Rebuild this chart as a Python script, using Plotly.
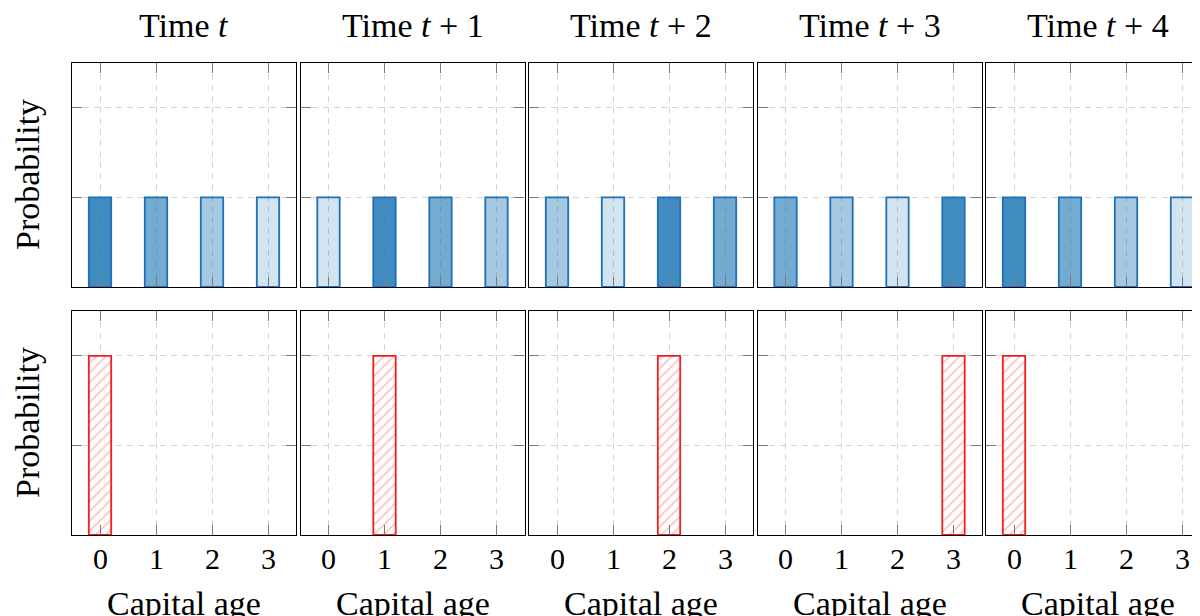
import plotly.graph_objects as go

# ---------------- data ----------------
time_labels = ["Time <i>t</i>", "Time <i>t</i> + 1", "Time <i>t</i> + 2", "Time <i>t</i> + 3", "Time <i>t</i> + 4"]
ages = [0, 1, 2, 3]
age_tick_labels = ["0", "1", "2", "3"]
uniform_prob = [0.25, 0.25, 0.25, 0.25]
deterministic_prob = [
    [1, 0, 0, 0],
    [0, 1, 0, 0],
    [0, 0, 1, 0],
    [0, 0, 0, 1],
    [1, 0, 0, 0],
]
# shade index (0 = darkest) of each age bar at each time (vintage follows through time)
vintage_shade = [
    [0, 1, 2, 3],
    [3, 0, 1, 2],
    [2, 3, 0, 1],
    [1, 2, 3, 0],
    [0, 1, 2, 3],
]
shade_alpha = [0.85, 0.62, 0.40, 0.20]
top_yticks = [0, 0.25, 0.5]
bottom_yticks = [0, 0.5, 1.0]
ylabel = "Probability"
xlabel = "Capital age"

# ---------------- layout geometry ----------------
# the page body has an 8px margin; work in screen pixels and subtract it
OFF = 8
SW, SH = 1200, 616
W, H = SW - OFF, SH - OFF
FONT = "Liberation Serif"
FS = 34
TFS = 30
panel_w = 224
pitch = 228.5
left0 = 72
top_row = (63, 287)
bot_row = (311, 535)


def px(x):
    return (x - OFF) / W


def py(y):
    return (H - (y - OFF)) / H


def ydom(r):
    return [py(r[1]), py(r[0])]


fig = go.Figure()
layout = dict(
    width=W, height=H,
    margin=dict(l=0, r=0, t=0, b=0),
    paper_bgcolor="white", plot_bgcolor="white",
    showlegend=False, barmode="overlay",
    font=dict(family=FONT, size=FS, color="black"),
)
annotations = []

n = len(time_labels)
for i in range(n):
    x0 = left0 + pitch * i
    x1 = x0 + panel_w
    clipped = x1 > SW
    xd = [px(x0), min(px(x1), 1.0)]
    xmax = 3.5 if not clipped else -0.5 + 4.0 * (SW - x0) / panel_w
    for row in range(2):
        k = row * n + i + 1
        xa = "xaxis" if k == 1 else f"xaxis{k}"
        ya = "yaxis" if k == 1 else f"yaxis{k}"
        xr = "x" if k == 1 else f"x{k}"
        yr = "y" if k == 1 else f"y{k}"
        if row == 0:
            colors = [f"rgba(31,119,180,{shade_alpha[s]})" for s in vintage_shade[i]]
            fig.add_trace(go.Bar(
                x=ages, y=uniform_prob, width=0.4,
                marker=dict(color=colors, line=dict(color="rgb(31,112,184)", width=1.8)),
                xaxis=xr, yaxis=yr, hoverinfo="skip",
            ))
            yrange = [0, 0.625]
            yt = top_yticks
            dom = ydom(top_row)
        else:
            vals = [v if v > 0 else None for v in deterministic_prob[i]]
            fig.add_trace(go.Bar(
                x=ages, y=vals, width=0.4,
                marker=dict(
                    color="white",
                    line=dict(color="rgb(240,30,30)", width=1.8),
                    pattern=dict(shape="/", fgcolor="rgb(255,110,110)", bgcolor="white",
                                 size=7, solidity=0.22),
                ),
                xaxis=xr, yaxis=yr, hoverinfo="skip",
            ))
            yrange = [0, 1.25]
            yt = bottom_yticks
            dom = ydom(bot_row)
            for a, lab in zip(ages, age_tick_labels):
                annotations.append(dict(
                    text=lab, x=a, y=py(558), xref=xr, yref="paper",
                    xanchor="center", yanchor="middle", showarrow=False,
                    font=dict(family=FONT, size=TFS, color="black"),
                ))
        layout[xa] = dict(
            domain=xd, range=[-0.5, xmax], anchor=yr,
            tickvals=ages, showticklabels=False,
            ticks="inside", ticklen=10, tickwidth=1.3, tickcolor="#7a7a7a",
            showline=True, linecolor="black", linewidth=1.3, mirror="ticks",
            showgrid=True, gridcolor="#d4d4d4", gridwidth=1, griddash="6px,5px",
            zeroline=False, fixedrange=True,
        )
        layout[ya] = dict(
            domain=dom, range=yrange, anchor=xr,
            tickvals=yt, showticklabels=False,
            ticks="inside", ticklen=10, tickwidth=1.3, tickcolor="#7a7a7a",
            showline=True, linecolor="black", linewidth=1.3,
            mirror=("ticks" if not clipped else False),
            showgrid=True, gridcolor="#d4d4d4", gridwidth=1, griddash="6px,5px",
            zeroline=False, fixedrange=True,
        )
    cx = (x0 + x1) / 2
    annotations.append(dict(
        text=time_labels[i], x=px(cx), y=py(26), xref="paper", yref="paper",
        xanchor="center", yanchor="middle", showarrow=False,
        font=dict(family=FONT, size=FS, color="black"),
    ))
    annotations.append(dict(
        text=xlabel, x=px(cx), y=py(603), xref="paper", yref="paper",
        xanchor="center", yanchor="middle", showarrow=False,
        font=dict(family=FONT, size=FS, color="black"),
    ))

for r in (top_row, bot_row):
    annotations.append(dict(
        text=ylabel, x=px(27), y=py((r[0] + r[1]) / 2), xref="paper", yref="paper",
        xanchor="center", yanchor="middle", showarrow=False, textangle=-90,
        font=dict(family=FONT, size=FS, color="black"),
    ))

layout["annotations"] = annotations
fig.update_layout(**layout)
fig.write_html("out.html")
